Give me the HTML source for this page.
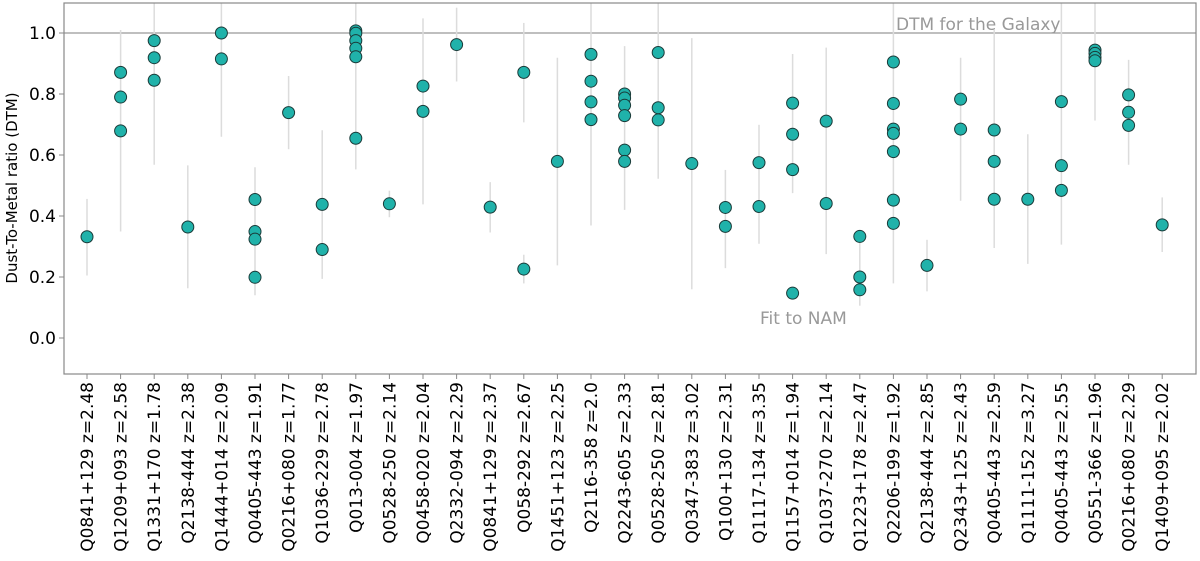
<!DOCTYPE html>
<html><head><meta charset="utf-8"><style>
body{margin:0;background:#fff}
svg text{font-family:"DejaVu Sans","Liberation Sans",sans-serif}
</style></head><body>
<svg id="chart" width="1200" height="556" xmlns="http://www.w3.org/2000/svg"></svg>
<script>
const categories=["Q0841+129 z=2.48","Q1209+093 z=2.58","Q1331+170 z=1.78","Q2138-444 z=2.38","Q1444+014 z=2.09","Q0405-443 z=1.91","Q0216+080 z=1.77","Q1036-229 z=2.78","Q013-004 z=1.97","Q0528-250 z=2.14","Q0458-020 z=2.04","Q2332-094 z=2.29","Q0841+129 z=2.37","Q058-292 z=2.67","Q1451+123 z=2.25","Q2116-358 z=2.0","Q2243-605 z=2.33","Q0528-250 z=2.81","Q0347-383 z=3.02","Q100+130 z=2.31","Q1117-134 z=3.35","Q1157+014 z=1.94","Q1037-270 z=2.14","Q1223+178 z=2.47","Q2206-199 z=1.92","Q2138-444 z=2.85","Q2343+125 z=2.43","Q0405-443 z=2.59","Q1111-152 z=3.27","Q0405-443 z=2.55","Q0551-366 z=1.96","Q0216+080 z=2.29","Q1409+095 z=2.02"];
const dtmValues=[[0.332],[0.871,0.790,0.679],[0.975,0.919,0.845],[0.364],[1.0,0.915],[0.454,0.349,0.324,0.199],[0.739],[0.438,0.290],[1.007,0.999,0.975,0.950,0.922,0.655],[0.44],[0.826,0.743],[0.962],[0.429],[0.871,0.226],[0.579],[0.930,0.842,0.774,0.716],[0.800,0.787,0.763,0.729,0.616,0.579],[0.936,0.755,0.715],[0.572],[0.428,0.366],[0.575,0.431],[0.770,0.668,0.552,0.147],[0.711,0.441],[0.333,0.200,0.158],[0.905,0.769,0.685,0.671,0.611,0.452,0.376],[0.238],[0.783,0.685],[0.682,0.579,0.455],[0.455],[0.775,0.565,0.484],[0.944,0.933,0.920,0.909],[0.797,0.740,0.697],[0.371]];
const errLow=[[0.205],[0.349],[0.568],[0.163],[0.66],[0.14],[0.619],[0.194],[0.553],[0.396],[0.438],[0.841],[0.346],[0.707,0.179],[0.238],[0.369],[0.420],[0.522],[0.160],[0.229],[0.309],[0.475],[0.275],[0.106],[0.179],[0.153],[0.450],[0.295],[0.243],[0.306],[0.713],[0.568],[0.282]];
const errHigh=[[0.456],[1.01],[1.1],[0.566],[1.1],[0.56],[0.859],[0.681],[1.1],[0.483],[1.048],[1.083],[0.511],[1.033,0.273],[0.919],[1.1],[0.957],[1.1],[0.983],[0.551],[0.699],[0.931],[0.952],[0.333],[1.1],[0.322],[0.919],[1.01],[0.668],[1.1],[1.1],[0.912],[0.461]];
const yTicks=[0.0,0.2,0.4,0.6,0.8,1.0];
const galaxyDTM=1.0;

const NS="http://www.w3.org/2000/svg",svg=document.getElementById('chart');
const L=64,R=1196,T=3,B=374;
const x=i=>87+33.6*i;
const y=v=>338-v*305;
function mk(tag,attrs,parent){const e=document.createElementNS(NS,tag);for(const k in attrs)e.setAttribute(k,attrs[k]);(parent||svg).appendChild(e);return e;}
const clip=mk('clipPath',{id:'pc'});mk('rect',{x:L,y:T,width:R-L,height:B-T},clip);
const g=mk('g',{'clip-path':'url(#pc)'});


// galaxy line
const gl=mk('line',{x1:L,x2:R,y1:y(galaxyDTM),y2:y(galaxyDTM),stroke:'#999','stroke-width':1.2},g);


// error bars
errLow.forEach((arr,i)=>arr.forEach((lo,j)=>{
  const e=mk('line',{x1:x(i),x2:x(i),y1:y(lo),y2:y(errHigh[i][j]),stroke:'#dcdcdc','stroke-width':1.5},g);
  
  
}));
// points
dtmValues.forEach((arr,i)=>arr.forEach(v=>{
  const c=mk('circle',{cx:x(i),cy:y(v),r:6,fill:'#20b2aa',stroke:'#1a3a38','stroke-width':1},g);
  
  
}));
// frame
const fr=mk('rect',{x:L,y:T,width:R-L,height:B-T,fill:'none',stroke:'#888','stroke-width':1.2});


// y ticks
yTicks.forEach(t=>{
  mk('line',{x1:L-5,x2:L,y1:y(t),y2:y(t),stroke:'#888'});
  const tx=mk('text',{x:L-8,y:y(t)+6,'text-anchor':'end','font-size':17,fill:'#000'});
  tx.textContent=t.toFixed(1);
  
  
});
// x ticks
categories.forEach((c,i)=>{
  mk('line',{x1:x(i),x2:x(i),y1:B,y2:B+5,stroke:'#888'});
  const tx=mk('text',{transform:`translate(${x(i)+6},${B+8}) rotate(-90)`,'text-anchor':'end','font-size':17,fill:'#000'});
  tx.textContent=c;
  
  
});
const yt=mk('text',{transform:'translate(17,188) rotate(-90)','text-anchor':'middle','font-size':15,fill:'#000'});
yt.textContent='Dust-To-Metal ratio (DTM)';


const a1=mk('text',{x:896,y:30,'font-size':17,fill:'#999'});
a1.textContent='DTM for the Galaxy';


const a2=mk('text',{x:760,y:324,'font-size':17,fill:'#999'});
a2.textContent='Fit to NAM';


</script>
</body></html>
